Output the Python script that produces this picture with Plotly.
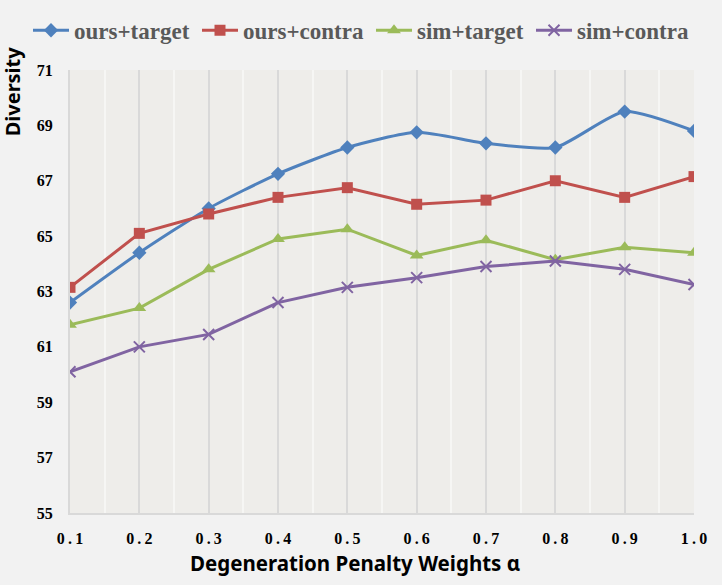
import plotly.graph_objects as go

alpha = [0.1, 0.2, 0.3, 0.4, 0.5, 0.6, 0.7, 0.8, 0.9, 1.0]
tick_labels = ["0\u2009.\u20091", "0\u2009.\u20092", "0\u2009.\u20093", "0\u2009.\u20094", "0\u2009.\u20095",
               "0\u2009.\u20096", "0\u2009.\u20097", "0\u2009.\u20098", "0\u2009.\u20099", "1\u2009.\u20090"]
ours_target = [62.6, 64.4, 66.0, 67.25, 68.2, 68.75, 68.35, 68.2, 69.5, 68.8]
ours_contra = [63.15, 65.1, 65.8, 66.4, 66.75, 66.15, 66.3, 67.0, 66.4, 67.15]
sim_target = [61.8, 62.4, 63.8, 64.9, 65.25, 64.3, 64.85, 64.15, 64.6, 64.4]
sim_contra = [60.1, 61.0, 61.45, 62.6, 63.15, 63.5, 63.9, 64.1, 63.8, 63.25]
y_ticks = [55, 57, 59, 61, 63, 65, 67, 69, 71]

fig = go.Figure()
fig.add_trace(go.Scatter(x=alpha, y=ours_target, name="ours+target", mode="lines+markers",
                         legend="legend",
                         line=dict(color="#4f81bd", width=3, shape="spline", smoothing=0.6),
                         marker=dict(symbol="diamond", size=11, color="#4f81bd")))
fig.add_trace(go.Scatter(x=alpha, y=ours_contra, name="ours+contra", mode="lines+markers",
                         legend="legend2",
                         line=dict(color="#c0504d", width=3),
                         marker=dict(symbol="square", size=11, color="#c0504d")))
fig.add_trace(go.Scatter(x=alpha, y=sim_target, name="sim+target", mode="lines+markers",
                         legend="legend3",
                         line=dict(color="#9bbb59", width=3),
                         marker=dict(symbol="triangle-up", size=12, color="#9bbb59")))
fig.add_trace(go.Scatter(x=alpha, y=sim_contra, name="sim+contra", mode="lines+markers",
                         legend="legend4",
                         line=dict(color="#8064a2", width=3),
                         marker=dict(symbol="x-thin", size=11, color="#8064a2",
                                     line=dict(color="#8064a2", width=2))))

def leg(xpx):
    return dict(orientation="h", x=xpx / 722, xanchor="left", y=0.985, yanchor="top",
                yref="container", xref="container",
                font=dict(family="Liberation Serif", size=23, color="#595959", weight="bold"),
                itemwidth=36, bgcolor="rgba(0,0,0,0)")

fig.update_layout(
    width=722, height=585,
    paper_bgcolor="#f2f2f2", plot_bgcolor="#eeedea",
    margin=dict(l=70, r=28, t=70, b=72, autoexpand=False),
    legend=leg(28), legend2=leg(197), legend3=leg(371), legend4=leg(531),
    showlegend=True,
    annotations=[
        dict(text="Diversity", xref="paper", yref="paper", x=-0.092, y=1.057,
             xanchor="center", yanchor="top", textangle=-90, showarrow=False,
             font=dict(family="Noto Sans", size=20, color="black", weight="bold")),
        dict(text="Degeneration Penalty Weights α", xref="paper", yref="paper",
             x=(355 - 70) / 624, y=-0.112, xanchor="center", yanchor="middle", showarrow=False,
             font=dict(family="Noto Sans", size=20.5, color="black", weight="bold")),
    ],
)
fig.update_xaxes(
    range=[0.1, 1.0], tickmode="array", tickvals=alpha, ticktext=tick_labels,
    tickfont=dict(family="Liberation Serif", size=16, color="black", weight="bold"),
    showgrid=True, gridcolor="#d9d9d9", gridwidth=2,
    minor=dict(dtick=0.05, tick0=0.05, showgrid=True, gridcolor="#f6f6f4", gridwidth=2),
    showline=True, linecolor="#d9d9d9", linewidth=2, zeroline=False,
    ticks="", ticklabelstandoff=10, automargin=False,
)
fig.update_yaxes(
    range=[55, 71], tickmode="array", tickvals=y_ticks,
    tickfont=dict(family="Liberation Serif", size=16, color="black", weight="bold"),
    showgrid=False, showline=True, linecolor="#d9d9d9", linewidth=2, zeroline=False,
    ticks="", ticklabelstandoff=12, automargin=False,
)
fig.write_html("out.html", config={"displayModeBar": False},
               post_script="document.body.style.margin='0';")
